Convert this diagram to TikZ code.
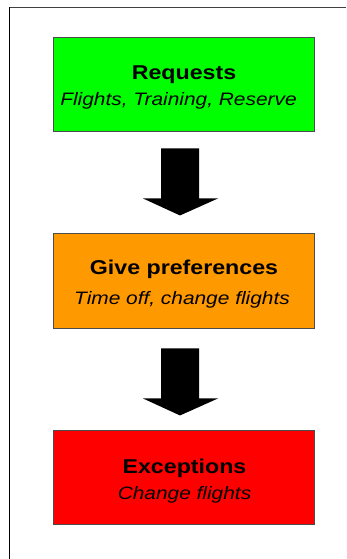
\documentclass[tikz,border=0pt]{standalone}
\usepackage{fontspec}
\setmainfont{Liberation Sans}
\newfontfamily\boxfont[FakeStretch=1.16]{Liberation Sans}
\usetikzlibrary{calc}

\definecolor{reqgreen}{RGB}{0,255,0}
\definecolor{preforange}{RGB}{255,153,0}
\definecolor{excred}{RGB}{255,0,0}

\tikzset{
  stage/.style={draw=black!70, line width=0.9pt, minimum width=261pt,
    minimum height=94pt, inner sep=0pt},
  title/.style={anchor=base, inner sep=0pt, font=\boxfont\fontsize{20}{24}\selectfont\bfseries},
  detail/.style={anchor=base, inner sep=0pt, font=\boxfont\fontsize{18}{22}\selectfont\itshape},
  frameline/.style={line width=1.1pt},
  blockarrow/.pic={
    \fill[black] (-19,0) -- (19,0) -- (19,50) -- (38,50) -- (0,67)
      -- (-37,50) -- (-19,50) -- cycle;
  }
}

\begin{document}
\begin{tikzpicture}[x=1pt, y=-1pt]
  \useasboundingbox (0,0) rectangle (346,559);

  % outer frame (only its top and left edges lie in view)
  \draw[frameline, black!75] (9.5,7.5) -- (346,7.5);
  \draw[frameline, black] (9.5,7.5) -- (9.5,559);

  % the three stages
  \node[stage, fill=reqgreen]    (req)  at (183.5,84)    {};
  \node[stage, fill=preforange, minimum height=95pt] (pref) at (183.5,280.5) {};
  \node[stage, fill=excred]      (exc)  at (183.5,477)   {};

  \node[title]  (reqT)  at (184,80)    {Requests};
  \node[detail] (reqD)  at (178.5,106) {Flights, Training, Reserve};

  \node[title]  (prefT) at (184,274)   {Give preferences};
  \node[detail] (prefD) at (182,304)   {Time off, change flights};

  \node[title]  (excT)  at (184.5,473) {Exceptions};
  \node[detail] (excD)  at (184.5,499) {Change flights};

  % block arrows between the stages
  \pic at ($(req.south)+(-3.5,17)$) {blockarrow};
  \pic at ($(pref.south)+(-3.5,20)$) {blockarrow};
\end{tikzpicture}
\end{document}
